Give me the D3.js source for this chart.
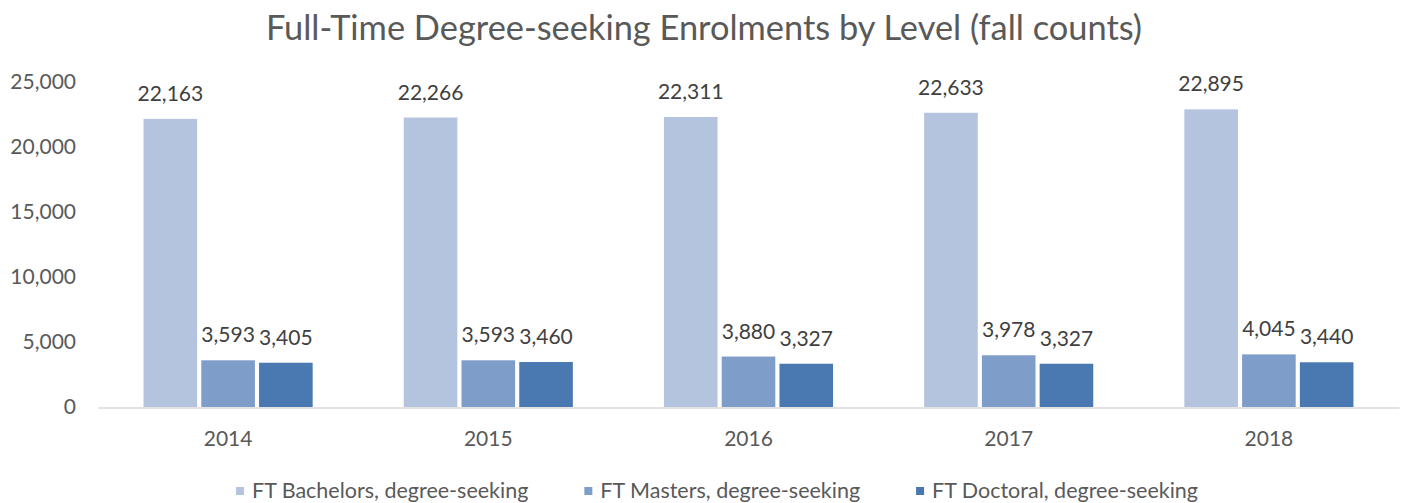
<!DOCTYPE html>
<html>
<head>
<meta charset="utf-8">
<title>Full-Time Degree-seeking Enrolments by Level</title>
<script src="https://cdn.jsdelivr.net/npm/d3@7"></script>
<style>
  body { margin: 0; background: #fff; }
  svg { font-family: Lato, "Open Sans", sans-serif; }
  .tick text { fill: #595959; }
</style>
</head>
<body>
<div id="chart"></div>
<script>
// chart data
var years = ["2014", "2015", "2016", "2017", "2018"];
var seriesNames = ["FT Bachelors, degree-seeking", "FT Masters, degree-seeking", "FT Doctoral, degree-seeking"];
var bachelors = [22163, 22266, 22311, 22633, 22895];
var masters = [3593, 3593, 3880, 3978, 4045];
var doctoral = [3405, 3460, 3327, 3327, 3440];
var yTicks = [0, 5000, 10000, 15000, 20000, 25000];

var colors = ["#b4c3de", "#7f9dc9", "#4a78b1"];
var seriesValues = [bachelors, masters, doctoral];

var width = 1407, height = 503;
var margin = { top: 82, right: 8, bottom: 96, left: 98 };

var svg = d3.select("#chart").append("svg")
  .attr("width", width)
  .attr("height", height);

// title
svg.append("text")
  .attr("x", 704)
  .attr("y", 40)
  .attr("text-anchor", "middle")
  .style("font-size", "34.4px")
  .style("fill", "#595959")
  .text("Full-Time Degree-seeking Enrolments by Level (fall counts)");

var x0 = d3.scaleBand()
  .domain(years)
  .range([margin.left, width - margin.right])
  .paddingInner(0.35)
  .paddingOuter(0.175);

var x1 = d3.scaleBand()
  .domain(d3.range(seriesNames.length))
  .range([0, x0.bandwidth()])
  .paddingInner(0.072);

var y = d3.scaleLinear()
  .domain([0, 25000])
  .range([height - margin.bottom, margin.top]);

// y axis, no line
var yAxis = svg.append("g")
  .attr("transform", "translate(" + margin.left + ",0)")
  .call(d3.axisLeft(y).tickValues(yTicks).tickSize(0).tickPadding(22).tickFormat(d3.format(",")));
yAxis.select(".domain").remove();
yAxis.selectAll("text").style("font-size", "21px").style("font-family", "Lato, sans-serif");

// bars
var groups = svg.selectAll(".year")
  .data(years)
  .enter().append("g")
  .attr("class", "year")
  .attr("transform", function (d) { return "translate(" + x0(d) + ",0)"; });

groups.selectAll("rect")
  .data(function (d, i) {
    return seriesValues.map(function (s, k) { return { k: k, v: s[i] }; });
  })
  .enter().append("rect")
  .attr("x", function (d) { return x1(d.k); })
  .attr("width", x1.bandwidth())
  .attr("y", function (d) { return y(d.v); })
  .attr("height", function (d) { return y(0) - y(d.v); })
  .attr("fill", function (d) { return colors[d.k]; });

groups.selectAll(".lbl")
  .data(function (d, i) {
    return seriesValues.map(function (s, k) { return { k: k, v: s[i] }; });
  })
  .enter().append("text")
  .attr("class", "lbl")
  .attr("x", function (d) { return x1(d.k) + x1.bandwidth() / 2; })
  .attr("y", function (d) { return y(d.v) - 18; })
  .attr("text-anchor", "middle")
  .style("font-size", "21px")
  .style("fill", "#404040")
  .text(function (d) { return d3.format(",")(d.v); });

// x axis
var xAxis = svg.append("g")
  .attr("transform", "translate(0," + (y(0) + 0.5) + ")")
  .call(d3.axisBottom(x0).tickSize(0).tickPadding(24));
xAxis.select(".domain").attr("stroke", "#d9d9d9").attr("stroke-width", 1.5);
xAxis.selectAll("text").style("font-size", "21px").style("font-family", "Lato, sans-serif");

// legend
var legend = svg.append("g");
var lx = 0;
seriesNames.forEach(function (name, k) {
  var item = legend.append("g").attr("transform", "translate(" + lx + ",0)");
  item.append("rect")
    .attr("x", 0).attr("y", 487)
    .attr("width", 8).attr("height", 8)
    .attr("fill", colors[k]);
  var t = item.append("text")
    .attr("x", 16).attr("y", 498)
    .style("font-size", "21.5px")
    .style("fill", "#595959")
    .text(name);
  lx += 16 + t.node().getComputedTextLength() + 56;
});
var legendWidth = lx - 56;
legend.attr("transform", "translate(" + (717 - legendWidth / 2) + ",0)");
</script>
</body>
</html>
